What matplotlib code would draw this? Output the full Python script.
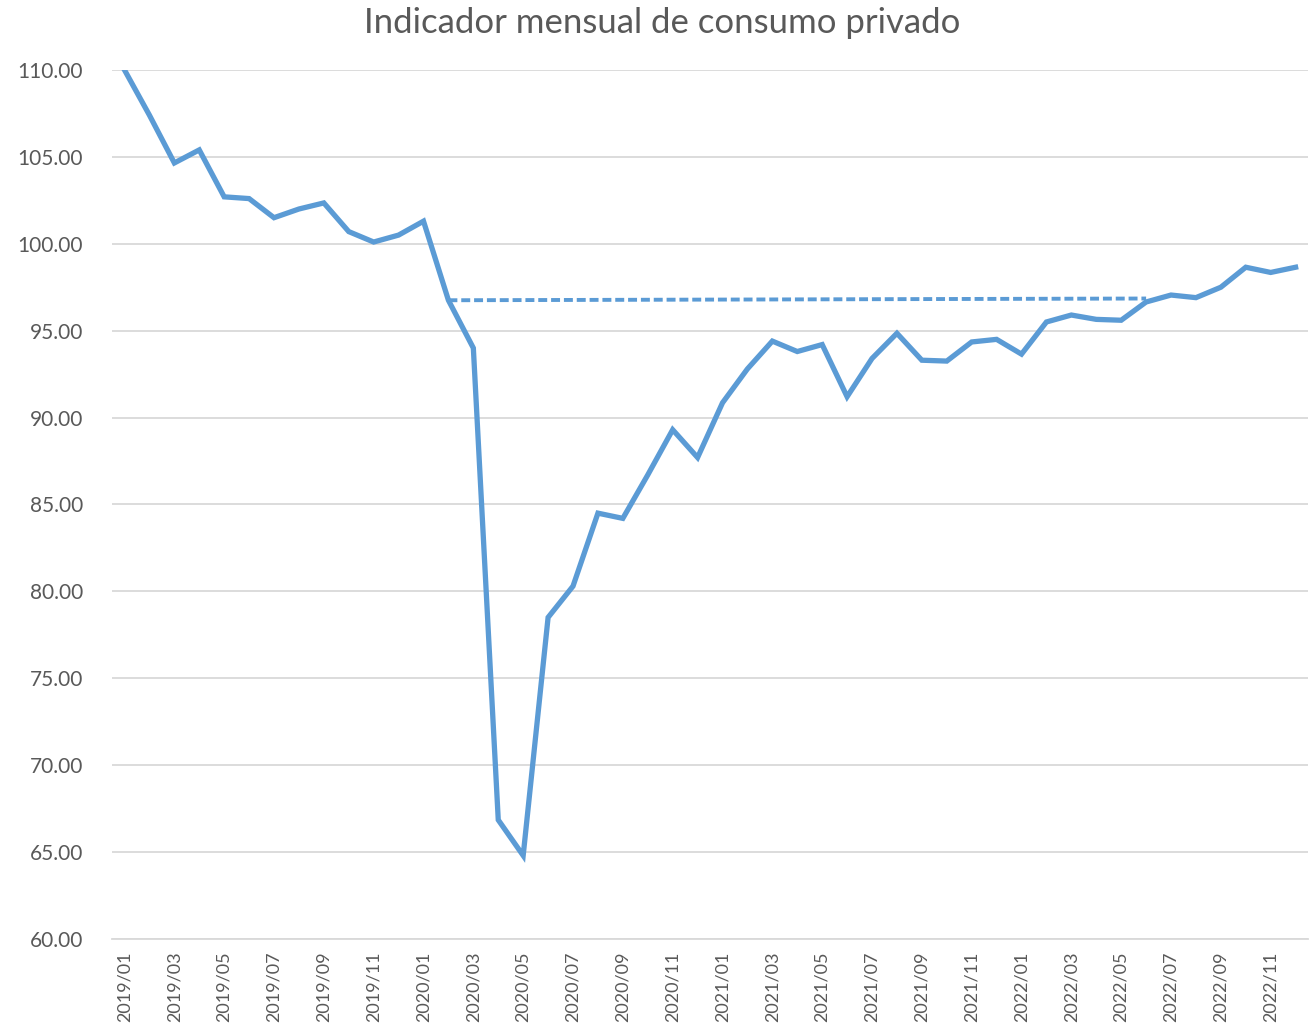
import matplotlib
matplotlib.use('Agg')

import numpy as np
import matplotlib.pyplot as plt

months = ["{}/{:02d}".format(y, m) for y in range(2019, 2023) for m in range(1, 13)]

consumo = [110.0, 107.4, 104.65, 105.4, 102.7, 102.6, 101.5, 102.0, 102.35, 100.7, 100.1, 100.5,
           101.3, 96.75, 94.0, 66.85, 64.8, 78.5, 80.3, 84.5, 84.2, 86.7, 89.3, 87.7,
           90.85, 92.8, 94.4, 93.8, 94.2, 91.2, 93.4, 94.85, 93.3, 93.25, 94.35, 94.5,
           93.65, 95.5, 95.9, 95.65, 95.6, 96.65, 97.05, 96.9, 97.5, 98.65, 98.35, 98.65]

# dashed reference line: start and end month and level
ref_months = ["2020/02", "2022/06"]
ref_values = [96.75, 96.85]

blue = '#5b9bd5'
grey_text = '#595959'

plt.rcParams['font.family'] = ['Lato', 'DejaVu Sans']

fig = plt.figure(figsize=(13.12, 10.29), dpi=100)
ax = fig.add_axes([0.0854, 0.0875, 0.9116, 0.8445])

x = np.arange(len(months))
ax.plot(x, consumo, color=blue, lw=3.8, solid_joinstyle='miter', zorder=3)
ref_x = [months.index(m) for m in ref_months]
ax.plot(ref_x, ref_values, color=blue, lw=2.8, ls=(0, (2.3, 1.0)), zorder=3)

ax.set_ylim(60, 110)
ax.set_xlim(-0.5, len(months) - 0.5)
ax.set_yticks(np.arange(60, 111, 5))
ax.set_yticklabels(["{:.2f}".format(v) for v in np.arange(60, 111, 5)])
ax.set_xticks(x[::2])
ax.set_xticklabels(months[::2], rotation=90)
ax.tick_params(axis='both', length=0, colors=grey_text)
ax.tick_params(axis='y', pad=21, labelsize=15)
ax.tick_params(axis='x', pad=9, labelsize=13)
ax.grid(axis='y', color='#d9d9d9', lw=1.3)
ax.set_axisbelow(True)
for s in ['top', 'right', 'left']:
    ax.spines[s].set_visible(False)
ax.spines['bottom'].set_color('#d9d9d9')
ax.spines['bottom'].set_linewidth(1.3)

fig.text(0.505, 0.978, "Indicador mensual de consumo privado", ha='center', va='center',
         fontsize=25, color=grey_text)

fig.savefig('out.png', dpi=100)
